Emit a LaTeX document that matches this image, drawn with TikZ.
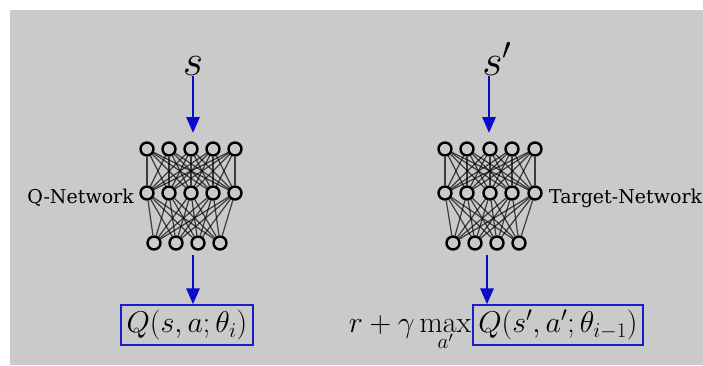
\RequirePackage{fix-cm}
\documentclass[tikz,border=0pt]{standalone}
\usepackage{fontspec}
\newfontfamily\labelfont{DejaVu Serif}
\usetikzlibrary{arrows.meta,backgrounds}
\definecolor{bg}{RGB}{202,202,202}
\definecolor{arrblue}{RGB}{10,10,205}
\definecolor{boxblue}{RGB}{30,30,200}
\begin{document}
\begin{tikzpicture}[x=1pt,y=-1pt,
  neuron/.style={circle,draw=black,line width=2.4pt,fill=bg,minimum size=13pt,inner sep=0pt},
  synapse/.style={draw=black,line width=1.2pt,opacity=0.7},
  flow/.style={draw=arrblue,line width=2.8pt,-{Triangle[width=13pt,length=16pt]}},
  outbox/.style={draw=boxblue,line width=1.3pt,minimum height=40pt,inner sep=0pt},
  bigsym/.style={font=\fontsize{44}{50}\selectfont,inner sep=1pt},
  mathlbl/.style={font=\fontsize{30}{36}\selectfont},
  netlbl/.style={font=\labelfont\fontsize{19}{23}\selectfont,inner sep=0pt}]
\useasboundingbox (0,0) rectangle (703,365);
\begin{scope}[on background layer]
  \fill[bg] (10,10) rectangle (703,365);
\end{scope}

% inputs
\node[bigsym,anchor=base] (s) at (193,75) {$s$};
\node[bigsym,anchor=base] (sp) at (497,75) {$s'$};

% Q-network
\foreach \x [count=\i] in {147,169,191,213,235} \node[neuron] (qt\i) at (\x,149) {};
\foreach \x [count=\i] in {147,169,191,213,235} \node[neuron] (qm\i) at (\x,193) {};
\foreach \x [count=\i] in {154,176,198,220} \node[neuron] (qb\i) at (\x,243) {};
% Target network
\foreach \x [count=\i] in {445,467,490,512,535} \node[neuron] (tt\i) at (\x,149) {};
\foreach \x [count=\i] in {445,467,490,512,535} \node[neuron] (tm\i) at (\x,193) {};
\foreach \x [count=\i] in {453,475,497,519} \node[neuron] (tb\i) at (\x,243) {};

\begin{scope}[on background layer]
  \foreach \i in {1,...,5}{
    \foreach \j in {1,...,5}{
      \draw[synapse] (qt\i) -- (qm\j);
      \draw[synapse] (tt\i) -- (tm\j);
    }
    \foreach \j in {1,...,4}{
      \draw[synapse] (qm\i) -- (qb\j);
      \draw[synapse] (tm\i) -- (tb\j);
    }
  }
\end{scope}

\node[netlbl,anchor=base east] (qlbl) at (134,203) {Q-Network};
\node[netlbl,anchor=base west] (tlbl) at (549,203) {Target-Network};

% outputs
\node[outbox,mathlbl,minimum width=132pt] (q1) at (187,325) {$Q(s,a;\theta_i)$};
\node[outbox,mathlbl,minimum width=170pt] (q2) at (558,325) {$Q(s',a';\theta_{i-1})$};
\node[mathlbl,anchor=base east,inner sep=1pt] (pre) at (q2.base west) {$r+\gamma\max\limits_{a'}$};

% arrows
\coordinate (qin) at (193,133);
\coordinate (tin) at (489,133);
\coordinate (qout) at (193,255);
\coordinate (tout) at (487,255);
\draw[flow] (s.south) -- (qin);
\draw[flow] (sp.south -| tin) -- (tin);
\draw[flow] (qout) -- (qout |- q1.north);
\draw[flow] (tout) -- (tout |- q2.north);
\end{tikzpicture}
\end{document}
